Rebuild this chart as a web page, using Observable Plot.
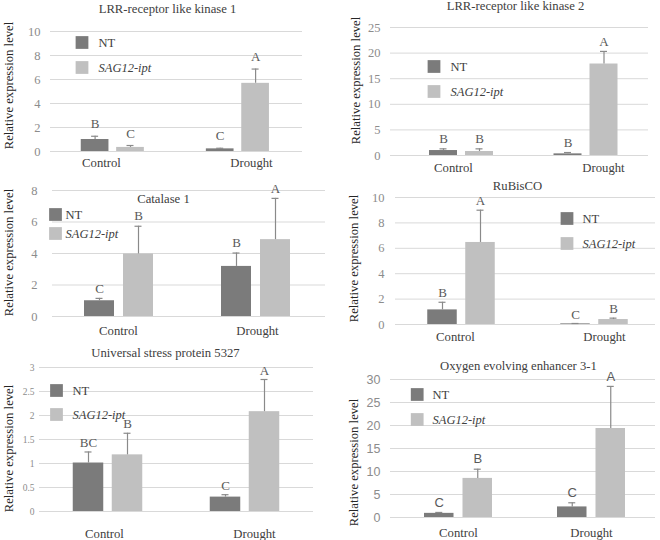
<!DOCTYPE html>
<html><head><meta charset="utf-8">
<script src="https://cdn.jsdelivr.net/npm/d3@7"></script>
<script src="https://cdn.jsdelivr.net/npm/@observablehq/plot@0.6"></script>
<style>
body{margin:0;background:#fff;}
#fig{position:relative;width:660px;height:540px;background:#fff;overflow:hidden;}
#fig svg{position:absolute;overflow:visible;}
</style></head><body><div id="fig"></div>
<script>
// ---------- data ----------
const categories = ["Control", "Drought"];
const seriesNames = ["NT", "SAG12-ipt"];
const yTitle = "Relative expression level";
const titles = ["LRR-receptor like kinase 1", "LRR-receptor like kinase 2", "Catalase 1",
  "RuBisCO", "Universal stress protein 5327", "Oxygen evolving enhancer 3-1"];

const lrr1NT = [1.0, 0.22], lrr1NTErr = [0.27, 0.05], lrr1NTLetters = ["B", "C"];
const lrr1SAG = [0.34, 5.68], lrr1SAGErr = [0.16, 1.19], lrr1SAGLetters = ["C", "A"];
const lrr1Ticks = [0, 2, 4, 6, 8, 10];

const lrr2NT = [0.97, 0.32], lrr2NTErr = [0.33, 0.26], lrr2NTLetters = ["B", "B"];
const lrr2SAG = [0.78, 17.87], lrr2SAGErr = [0.52, 2.46], lrr2SAGLetters = ["B", "A"];
const lrr2Ticks = [0, 5, 10, 15, 20, 25];

const catNT = [1.0, 3.18], catNTErr = [0.15, 0.85], catNTLetters = ["C", "B"];
const catSAG = [3.97, 4.88], catSAGErr = [1.76, 2.62], catSAGLetters = ["B", "A"];
const catTicks = [0, 2, 4, 6, 8];

const rubNT = [1.15, 0.05], rubNTErr = [0.6, 0.03], rubNTLetters = ["B", "C"];
const rubSAG = [6.46, 0.39], rubSAGErr = [2.54, 0.11], rubSAGLetters = ["A", "B"];
const rubTicks = [0, 2, 4, 6, 8, 10];

const uspNT = [1.01, 0.30], uspNTErr = [0.23, 0.05], uspNTLetters = ["BC", "C"];
const uspSAG = [1.18, 2.08], uspSAGErr = [0.45, 0.67], uspSAGLetters = ["B", "A"];
const uspTicks = [0, 0.5, 1, 1.5, 2, 2.5, 3];

const oeeNT = [0.9, 2.3], oeeNTErr = [0.2, 0.9], oeeNTLetters = ["C", "C"];
const oeeSAG = [8.5, 19.35], oeeSAGErr = [2.0, 9.15], oeeSAGLetters = ["B", "A"];
const oeeTicks = [0, 5, 10, 15, 20, 25, 30];

function rows(values, errs, letters) {
  return categories.map((c, i) => ({cat: c, value: values[i], err: errs[i], letter: letters[i]}));
}

// ---------- layout / style ----------
const SERIF = "'Liberation Serif', 'Times New Roman', serif";
const SANS = "'Liberation Sans', Arial, sans-serif";
const colors = ["#7b7b7b", "#c0c0c0"];
const errColor = "#8a8a8a";
const letterColor = "#595959";
const textColor = "#404040";

const panels = [
  {title: titles[0], data: [rows(lrr1NT, lrr1NTErr, lrr1NTLetters), rows(lrr1SAG, lrr1SAGErr, lrr1SAGLetters)],
   ticks: lrr1Ticks, box: {x: 0, y: 0, w: 330, h: 175}, frame: {l: 50, r: 302, t: 31, b: 151},
   centers: [112.3, 237.4], barW: 27.7, gap: 7.7, labelX: [101, 251], labelY: 162,
   titleXY: [167, 8], ylabXY: [8, 85], legend: {sx: 81.5, sy: [42, 67], tx: 98},
   tickPad: 10, tickFont: SERIF, tickSize: 12.5, letterFont: SERIF, letterDy: -12},
  {title: titles[1], data: [rows(lrr2NT, lrr2NTErr, lrr2NTLetters), rows(lrr2SAG, lrr2SAGErr, lrr2SAGLetters)],
   ticks: lrr2Ticks, box: {x: 330, y: 0, w: 330, h: 175}, frame: {l: 390, r: 648, t: 27, b: 155},
   centers: [461, 585.5], barW: 28, gap: 8, labelX: [453, 603], labelY: 167,
   titleXY: [515, 5], ylabXY: [355, 80], legend: {sx: 433.5, sy: [66, 91], tx: 450},
   tickPad: 10, tickFont: SERIF, tickSize: 12.5, letterFont: SERIF, letterDy: -10},
  {title: titles[2], data: [rows(catNT, catNTErr, catNTLetters), rows(catSAG, catSAGErr, catSAGLetters)],
   ticks: catTicks, box: {x: 0, y: 175, w: 330, h: 175}, frame: {l: 52, r: 325, t: 190, b: 316},
   centers: [118.5, 255.5], barW: 30, gap: 9, labelX: [118, 257], labelY: 330,
   titleXY: [163, 198], ylabXY: [8, 252], legend: {sx: 55, sy: [214, 233], tx: 65},
   tickPad: 15, tickFont: SERIF, tickSize: 12.5, letterFont: SERIF, letterDy: -10},
  {title: titles[3], data: [rows(rubNT, rubNTErr, rubNTLetters), rows(rubSAG, rubSAGErr, rubSAGLetters)],
   ticks: rubTicks, box: {x: 330, y: 175, w: 330, h: 175}, frame: {l: 395, r: 655, t: 197, b: 324},
   centers: [461, 594], barW: 29.5, gap: 8.5, labelX: [455, 604], labelY: 336,
   titleXY: [517, 185], ylabXY: [353, 258], legend: {sx: 566.5, sy: [218, 243], tx: 582},
   tickPad: 11, tickFont: SERIF, tickSize: 12.5, letterFont: SERIF, letterDy: -9},
  {title: titles[4], data: [rows(uspNT, uspNTErr, uspNTLetters), rows(uspSAG, uspSAGErr, uspSAGLetters)],
   ticks: uspTicks, box: {x: 0, y: 350, w: 330, h: 190}, frame: {l: 39, r: 313, t: 367, b: 511},
   centers: [107.5, 244.5], barW: 30.5, gap: 8.5, labelX: [104, 254], labelY: 533,
   titleXY: [165, 352], ylabXY: [8, 448], legend: {sx: 56, sy: [390, 414], tx: 72},
   tickPad: 5, tickFont: SERIF, tickSize: 9.5, letterFont: SERIF, letterDy: -9},
  {title: titles[5], data: [rows(oeeNT, oeeNTErr, oeeNTLetters), rows(oeeSAG, oeeSAGErr, oeeSAGLetters)],
   ticks: oeeTicks, box: {x: 330, y: 350, w: 330, h: 190}, frame: {l: 390, r: 655, t: 379, b: 517},
   centers: [458, 591], barW: 29.5, gap: 9, labelX: [458, 591], labelY: 532,
   titleXY: [518, 365], ylabXY: [353, 462], legend: {sx: 416.7, sy: [394, 419], tx: 432},
   tickPad: 10, tickFont: SANS, tickSize: 12.5, letterFont: SANS, letterDy: -10}
];

function makePanel(p) {
  const L = p.box.x, T = p.box.y;
  const ml = p.frame.l - L, mr = L + p.box.w - p.frame.r;
  const mt = p.frame.t - T, mb = T + p.box.h - p.frame.b;
  const bw = p.centers[1] - p.centers[0];
  const off = (p.barW + p.gap) / 2;
  const inset = (bw - p.barW) / 2;
  const capIn = bw / 2 - 3.5;
  const fx = X => X - p.frame.l, fy = Y => Y - p.frame.t;
  const top = d => d.value + d.err;
  const marks = [
    Plot.gridY(p.ticks, {stroke: "#d9d9d9", strokeOpacity: 1, strokeWidth: 1}),
    Plot.axisY(p.ticks, {tickSize: 0, tickPadding: p.tickPad, fontSize: p.tickSize, fontFamily: p.tickFont,
      color: "#8c8c8c", label: null, tickFormat: v => String(v)})
  ];
  seriesNames.forEach((s, i) => {
    const d = p.data[i];
    const dxs = i === 0 ? -off : off;
    marks.push(Plot.barY(d, {x: "cat", y: "value", fill: colors[i], insetLeft: inset, insetRight: inset, dx: dxs}));
    marks.push(Plot.ruleX(d, {x: "cat", y1: "value", y2: top, dx: dxs, stroke: errColor, strokeWidth: 1.2}));
    marks.push(Plot.tickY(d, {x: "cat", y: top, dx: dxs, insetLeft: capIn, insetRight: capIn, stroke: errColor, strokeWidth: 1.2}));
    marks.push(Plot.text(d, {x: "cat", y: top, text: "letter", dx: dxs, dy: p.letterDy, fill: letterColor,
      fontSize: 13, fontFamily: p.letterFont}));
    marks.push(Plot.dot([s], {frameAnchor: "top-left", dx: fx(p.legend.sx), dy: fy(p.legend.sy[i]),
      symbol: "square", r: 7.2, fill: colors[i], stroke: "none"}));
    marks.push(Plot.text([s], {text: t => t, frameAnchor: "top-left", dx: fx(p.legend.tx), dy: fy(p.legend.sy[i]),
      textAnchor: "start", lineAnchor: "middle", fontStyle: i === 1 ? "italic" : "normal", fontSize: 12.5,
      fontWeight: "normal", fontFamily: SERIF, fill: textColor}));
  });
  categories.forEach((c, j) => {
    marks.push(Plot.text([c], {x: t => t, text: t => t, frameAnchor: "bottom", dx: p.labelX[j] - p.centers[j],
      dy: p.labelY - p.frame.b, lineAnchor: "middle", textAnchor: "middle", fontSize: 12.7,
      fontWeight: "normal", fontFamily: SERIF, fill: textColor}));
  });
  marks.push(Plot.text([p.title], {text: t => t, frameAnchor: "top-left", dx: fx(p.titleXY[0]), dy: fy(p.titleXY[1]),
    textAnchor: "middle", lineAnchor: "middle", fontSize: 12.7, fontFamily: SERIF, fill: textColor}));
  marks.push(Plot.text([yTitle], {text: t => t, frameAnchor: "top-left", dx: fx(p.ylabXY[0]), dy: fy(p.ylabXY[1]),
    rotate: -90, textAnchor: "middle", lineAnchor: "middle", fontSize: 12.7, fontWeight: "normal",
    fontFamily: SERIF, fill: "#262626"}));

  const svg = Plot.plot({
    width: p.box.w, height: p.box.h,
    marginLeft: ml, marginRight: mr, marginTop: mt, marginBottom: mb,
    x: {type: "band", domain: categories, range: [p.centers[0] - bw / 2 - L, p.centers[1] + bw / 2 - L],
        padding: 0, round: false, axis: null},
    y: {domain: [0, p.ticks[p.ticks.length - 1]], nice: false},
    style: {fontFamily: SERIF, fontSize: "12.5px", color: "#333", background: "transparent", overflow: "visible"},
    marks
  });
  svg.style.left = L + "px";
  svg.style.top = T + "px";
  return svg;
}

const fig = document.getElementById("fig");
panels.forEach(p => fig.appendChild(makePanel(p)));
</script>
</body></html>
